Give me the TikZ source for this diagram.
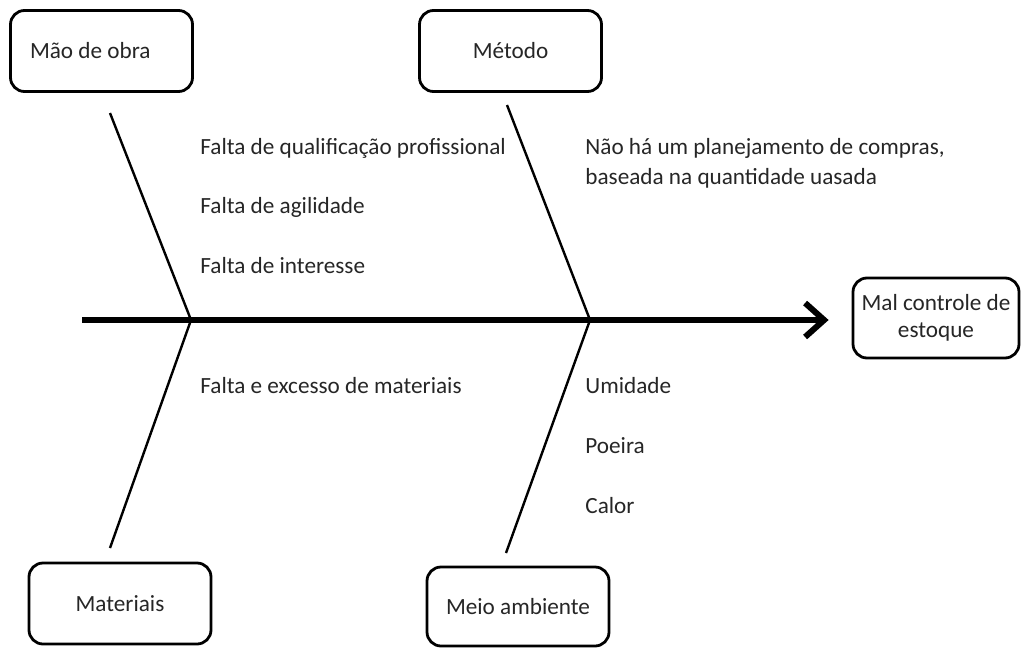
\documentclass[tikz,border=0pt]{standalone}
\usepackage{fontspec}
\setmainfont{Carlito}
\usepackage{tikz}
\usetikzlibrary{arrows.meta, calc, positioning}
\tikzstyle{box}=[draw=black, line width=1.4pt, rounded corners=7pt, fill=white, minimum width=91pt, minimum height=40.5pt, align=center, text=black!85]
\tikzstyle{cause}=[anchor=base west, inner sep=0pt, text=black!85, align=left]
\tikzstyle{bone}=[line width=1.2pt]
\tikzstyle{spine}=[line width=3pt, -{Straight Barb[length=9.5pt, width=17pt, line width=3pt]}]

\begin{document}
\begin{tikzpicture}[x=0.5pt, y=-0.5pt, font=\fontsize{11.6}{15}\selectfont]
	\useasboundingbox (0,0) rectangle (1021,647);

	\node[style=box] (mao) at (101.5,51) {\makebox[71.5pt][l]{Mão de obra}};
	\node[style=box] (metodo) at (510.5,51) {Método};
	\node[style=box] (mat) at (120,603.5) {Materiais};
	\node[style=box, minimum height=39.5pt] (meio) at (518,606.5) {Meio ambiente};
	\node[style=box, minimum width=83pt, minimum height=40pt, font=\fontsize{11.6}{13.5}\selectfont] (efeito) at (936,318) {Mal controle de\\estoque};

	\coordinate (tail) at (82,320);
	\coordinate (j1) at (191,320);
	\coordinate (j2) at (590,320);
	\coordinate (maoEnd) at (110,113);
	\coordinate (metodoEnd) at (507,105);
	\coordinate (matEnd) at (110,548);
	\coordinate (meioEnd) at (506,553);

	\draw[style=spine, shorten >=11.5pt] (tail) -- (tail -| efeito.west);
	\draw[style=bone] (maoEnd) to (j1);
	\draw[style=bone] (metodoEnd) to (j2);
	\draw[style=bone] (matEnd) to (j1);
	\draw[style=bone] (meioEnd) to (j2);

	\node[style=cause] (c1) at (200,154) {Falta de qualificação profissional};
	\node[style=cause] (c2) at (200,213) {Falta de agilidade};
	\node[style=cause] (c3) at (200,273) {Falta de interesse};
	\node[style=cause] (c4) at (585,184) {Não há um planejamento de compras,\\baseada na quantidade uasada};
	\node[style=cause] (c5) at (200,393) {Falta e excesso de materiais};
	\node[style=cause] (c6) at (585,393) {Umidade};
	\node[style=cause] (c7) at (585,453) {Poeira};
	\node[style=cause] (c8) at (585,513) {Calor};
\end{tikzpicture}
\end{document}
